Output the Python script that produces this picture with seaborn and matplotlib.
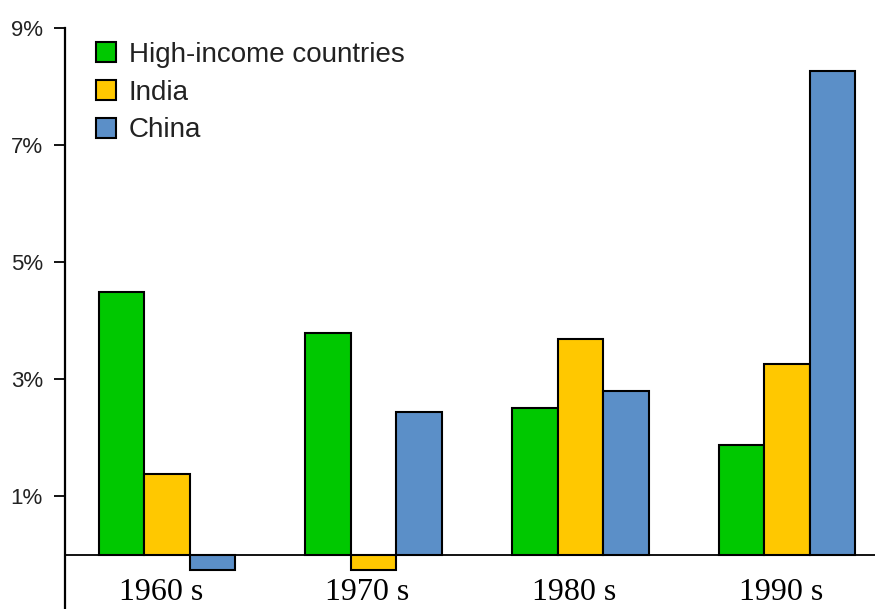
import numpy as np
import pandas as pd
import matplotlib
matplotlib.use('Agg')
import matplotlib.pyplot as plt
import seaborn as sns

# data (growth, %)
decades = ['1960s', '1970s', '1980s', '1990s']
high_income = [4.48, 3.79, 2.50, 1.88]
india = [1.37, -0.26, 3.69, 3.25]
china = [-0.26, 2.43, 2.80, 8.27]
series = ['High-income countries', 'India', 'China']
colors = ['#00c800', '#ffc800', '#5b8fc8']
yticks = [1, 3, 5, 7, 9]

df = pd.DataFrame({'decade': decades * 3,
                   'country': np.repeat(series, len(decades)),
                   'value': high_income + india + china})

sns.set_style('white')
plt.rcParams['font.family'] = ['Liberation Sans', 'DejaVu Sans']

fig = plt.figure(figsize=(8.75, 6.09), dpi=100)
ax = fig.add_axes([65/875, 0, 1 - 65/875, 1 - 28/609])

sns.barplot(data=df, x='decade', y='value', hue='country', order=decades,
            hue_order=series, palette=colors, saturation=1, width=0.66,
            errorbar=None, edgecolor='black', linewidth=1.5, ax=ax)

ax.set_ylim(-0.93, 9)
ax.set_xlim(-0.493, len(decades) - 1 + 0.425)
ax.axhline(0, color='black', lw=1.3, zorder=0.5)

ax.set_yticks(yticks)
ax.set_yticklabels([f'{t}%' for t in yticks])
ax.tick_params(axis='y', length=8, width=1.3, color='black', pad=8, left=True,
               labelsize=16, labelcolor='#222222')
ax.set_xticks([])
ax.set_xlabel('')
ax.set_ylabel('')

for s in ['top', 'right', 'bottom']:
    ax.spines[s].set_visible(False)
ax.spines['left'].set_color('black')
ax.spines['left'].set_linewidth(1.6)

# decade labels sit just under the zero line
for i, d in enumerate(decades):
    ax.text(i - 0.03, -0.78, d[:-1] + ' ' + d[-1], ha='center', va='baseline',
            fontsize=23, family='Liberation Serif', color='black')

handles, labels = ax.get_legend_handles_labels()
ax.legend(handles, labels, loc='upper left', bbox_to_anchor=(0.024, 0.995),
          frameon=False, fontsize=20, handlelength=0.75, handleheight=0.72,
          handletextpad=0.45, labelspacing=0.42, borderaxespad=0,
          labelcolor='#222222')

fig.savefig('out.png', dpi=100)
